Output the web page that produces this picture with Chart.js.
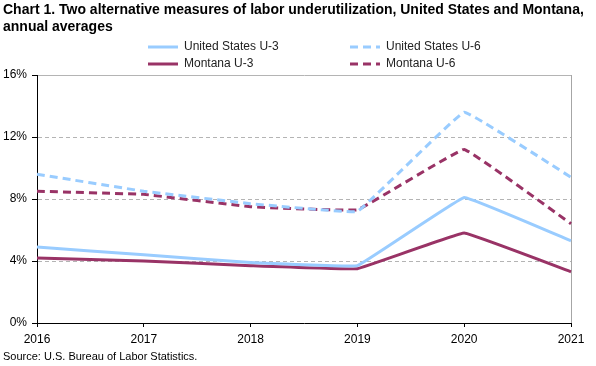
<!DOCTYPE html>
<html>
<head>
<meta charset="utf-8">
<script src="https://cdn.jsdelivr.net/npm/chart.js@4.4.1/dist/chart.umd.min.js"></script>
<style>
  body { margin: 0; background: #fff; font-family: "Liberation Sans", Arial, sans-serif; }
  #wrap { position: relative; width: 596px; height: 366px; }
  #title { position: absolute; left: 3px; top: 1px; font-size: 14px; font-weight: bold; line-height: 17px; color: #000; }
  .leg { position: absolute; font-size: 12px; color: #222; white-space: nowrap; }
  .leg svg { position: absolute; left: 0; top: 6px; }
  .leg span { position: absolute; left: 36px; top: 0; }
  #source { position: absolute; left: 3px; top: 350px; font-size: 11px; color: #000; }
</style>
</head>
<body>
<div id="wrap">
  <canvas id="chart" width="596" height="366"></canvas>
  <div id="title">Chart 1. Two alternative measures of labor underutilization, United States and Montana,<br>annual averages</div>
  <div id="legend"></div>
  <div id="source">Source: U.S. Bureau of Labor Statistics.</div>
</div>
<script>
const years = ["2016", "2017", "2018", "2019", "2020", "2021"];
const usU3 = [4.9, 4.4, 3.9, 3.7, 8.1, 5.3];
const usU6 = [9.6, 8.5, 7.7, 7.2, 13.6, 9.4];
const mtU3 = [4.2, 4.0, 3.7, 3.5, 5.8, 3.3];
const mtU6 = [8.5, 8.3, 7.5, 7.3, 11.2, 6.4];
const yTicks = [0, 4, 8, 12, 16];

const blue = "#99CCFF";
const plum = "#993366";

const series = [
  { label: "United States U-3", data: usU3, color: blue, dash: [] },
  { label: "United States U-6", data: usU6, color: blue, dash: [8, 5] },
  { label: "Montana U-3", data: mtU3, color: plum, dash: [] },
  { label: "Montana U-6", data: mtU6, color: plum, dash: [8, 5] },
];

// html legend, two columns
const legendPos = [[148, 39], [350, 39], [148, 56], [350, 56]];
const legendEl = document.getElementById("legend");
series.forEach(function (s, i) {
  const d = document.createElement("div");
  d.className = "leg";
  d.style.left = legendPos[i][0] + "px";
  d.style.top = legendPos[i][1] + "px";
  d.innerHTML =
    '<svg width="30" height="4"><line x1="0" y1="2" x2="30" y2="2" stroke="' + s.color +
    '" stroke-width="3" stroke-dasharray="' + (s.dash.length ? s.dash.join(",") : "none") + '"/></svg>' +
    "<span>" + s.label + "</span>";
  legendEl.appendChild(d);
});

const ctx = document.getElementById("chart").getContext("2d");
new Chart(ctx, {
  type: "line",
  data: {
    labels: years,
    datasets: series.map(function (s) {
      return {
        label: s.label,
        data: s.data,
        borderColor: s.color,
        backgroundColor: s.color,
        borderWidth: 3,
        borderDash: s.dash,
        pointRadius: 0,
        tension: 0.05,
        fill: false,
      };
    }),
  },
  options: {
    responsive: false,
    animation: false,
    layout: { padding: { left: 0, top: 75, right: 25, bottom: 23 } },
    plugins: { legend: { display: false }, tooltip: { enabled: false } },
    scales: {
      x: {
        offset: false,
        afterFit: function (s) { s.height = 20; },
        grid: {
          color: function (c) { return c.index === years.length - 1 ? "#a6a6a6" : "transparent"; },
          tickColor: "#000",
          tickLength: 4,
        },
        border: { color: "#000", width: 1 },
        ticks: { color: "#000", font: { family: "Liberation Sans", size: 12 }, padding: 5, maxRotation: 0, autoSkip: false },
      },
      y: {
        min: 0,
        max: 16,
        afterFit: function (s) { s.width = 37; },
        afterBuildTicks: function (s) { s.ticks = yTicks.map(function (v) { return { value: v }; }); },
        grid: {
          color: function (c) { return c.tick && c.tick.value === 0 ? "transparent" : "#b4b4b4"; },
          tickColor: "#000",
          tickLength: 5,
        },
        border: {
          color: "#000",
          width: 1,
          dash: function (c) { return c.tick && c.tick.value === 16 ? [] : [4, 3]; },
        },
        ticks: {
          color: "#000",
          font: { family: "Liberation Sans", size: 12 },
          padding: 5,
          callback: function (v) { return v + "%"; },
        },
      },
    },
  },
});
</script>
</body>
</html>
